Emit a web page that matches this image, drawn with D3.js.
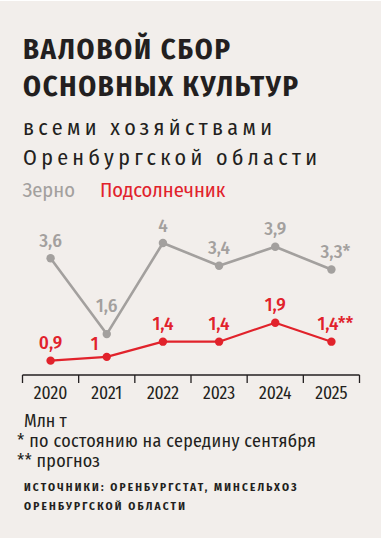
<!DOCTYPE html><html><head><meta charset="utf-8"><script src="https://cdn.jsdelivr.net/npm/d3@7"></script>
<style>body{margin:0;background:#fff}text{font-family:'Fira Sans Condensed',sans-serif}</style></head><body><svg id="s" width="383" height="538"></svg><script>
const years=["2020","2021","2022","2023","2024","2025"];
const grain=[3.6,1.6,4,3.4,3.9,3.3];
const grainLabels=["3,6","1,6","4","3,4","3,9","3,3*"];
const sunflower=[0.9,1,1.4,1.4,1.9,1.4];
const sunLabels=["0,9","1","1,4","1,4","1,9","1,4**"];

const GRAY="#a3a09e",RED="#e1222b",INK="#231f20";
const svg=d3.select("#s");
svg.append("rect").attr("x",0).attr("y",1).attr("width",381).attr("height",537).attr("fill","#f2eeeb");

const x=d3.scaleBand().domain(years).range([22.5,359.5]).padding(0);
const y=d3.scaleLinear().domain([0,4]).range([394.8,243]);

function txt(g,xx,yy,s,opt){
  const e=g.append("text").attr("x",xx).attr("y",yy).text(s);
  if(opt.size) e.style("font-size",opt.size+"px");
  if(opt.weight) e.style("font-weight",opt.weight);
  if(opt.ls) e.style("letter-spacing",opt.ls+"px");
  if(opt.fill) e.attr("fill",opt.fill);
  if(opt.len) e.attr("textLength",opt.len).attr("lengthAdjust","spacing");
  return e;
}
// titles
const t=svg.append("g").attr("fill",INK);
txt(t,23,58.5,"ВАЛОВОЙ СБОР",{size:28.5,weight:700,len:207});
txt(t,23,95.5,"ОСНОВНЫХ КУЛЬТУР",{size:28.5,weight:700,len:275});
txt(t,23,135,"всеми хозяйствами",{size:22,weight:400,len:249});
txt(t,23,165,"Оренбургской области",{size:22,weight:400,len:294});
// legend
txt(svg,22.5,196.5,"Зерно",{size:20.5,fill:GRAY});
txt(svg,100,196.5,"Подсолнечник",{size:20.5,fill:RED});

// axis
const ax=svg.append("g").attr("transform","translate(0,375)");
ax.append("line").attr("x1",x.range()[0]).attr("x2",x.range()[1]).attr("stroke",INK).attr("stroke-width",1.3);
const edges=years.map(d=>x(d)).concat([x.range()[1]]);
ax.selectAll("line.tk").data(edges).join("line").attr("class","tk").attr("x1",d=>d).attr("x2",d=>d).attr("y1",0).attr("y2",8).attr("stroke",INK).attr("stroke-width",1.3);
ax.selectAll("text").data(years).join("text").attr("x",d=>x(d)+x.bandwidth()/2).attr("y",23.5).attr("text-anchor","middle").attr("fill",INK).style("font-size","17.5px").text(d=>d);

const cx=d=>x(d)+x.bandwidth()/2;
const line=d3.line().x((d,i)=>cx(years[i])).y(d=>y(d));
function series(vals,labels,color,w,offs){
  const g=svg.append("g");
  g.append("path").attr("d",line(vals)).attr("fill","none").attr("stroke",color).attr("stroke-width",w).attr("stroke-linejoin","round");
  g.selectAll("circle").data(vals).join("circle").attr("cx",(d,i)=>cx(years[i])).attr("cy",d=>y(d)).attr("r",4.2).attr("fill",color);
  g.selectAll("text").data(vals).join("text")
    .attr("x",(d,i)=>cx(years[i])+(offs[i]?offs[i][0]:0)+(labels[i].includes("*")?4:0))
    .attr("y",(d,i)=>y(d)-(offs[i]?offs[i][1]:11.5))
    .attr("text-anchor","middle").attr("fill",color).style("font-size","19px").style("font-weight",500)
    .text((d,i)=>labels[i]);
}
series(grain,grainLabels,GRAY,2.6,{1:[0,22]});
series(sunflower,sunLabels,RED,2.2,{1:[-12,7]});

// footer
txt(svg,24,427.3,"Млн т",{size:17.8,fill:INK});
txt(svg,17,447.3,"* по состоянию на середину сентября",{size:18,fill:INK,len:299});
txt(svg,17,466.7,"** прогноз",{size:18,fill:INK,len:83});
txt(svg,24,491.3,"ИСТОЧНИКИ: ОРЕНБУРГСТАТ, МИНСЕЛЬХОЗ",{size:11.2,weight:700,fill:INK,len:272.5});
txt(svg,24,509.5,"ОРЕНБУРГСКОЙ ОБЛАСТИ",{size:11.2,weight:700,fill:INK,len:161});
</script></body></html>
